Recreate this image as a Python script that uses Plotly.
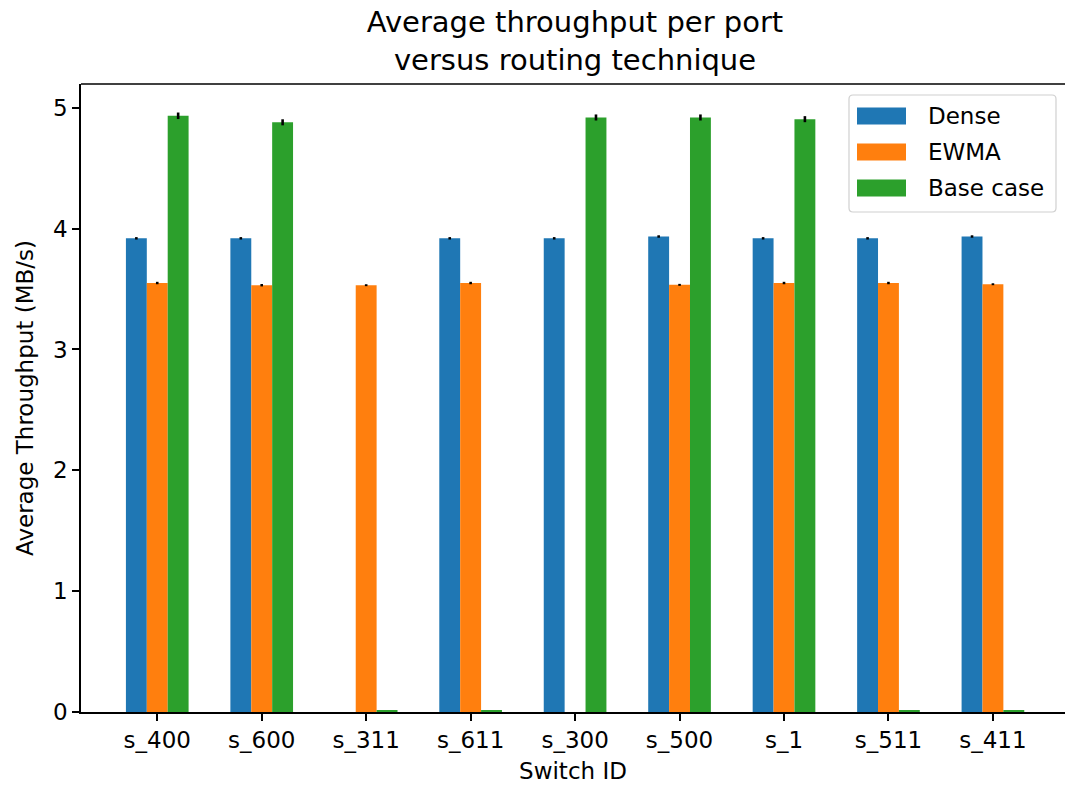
import plotly.graph_objects as go

switches = ["s_400", "s_600", "s_311", "s_611", "s_300", "s_500", "s_1", "s_511", "s_411"]
dense = [3.92, 3.92, None, 3.92, 3.92, 3.935, 3.92, 3.92, 3.935]
dense_err = [0.01, 0.01, 0, 0.01, 0.01, 0.01, 0.01, 0.01, 0.01]
ewma = [3.55, 3.532, 3.532, 3.55, None, 3.535, 3.55, 3.55, 3.54]
ewma_err = [0.01, 0.01, 0.008, 0.01, 0, 0.008, 0.01, 0.01, 0.008]
base = [4.934, 4.88, 0.012, 0.012, 4.92, 4.92, 4.906, 0.012, 0.012]
base_err = [0.027, 0.025, 0, 0, 0.025, 0.025, 0.025, 0, 0]
series_names = ["Dense", "EWMA", "Base case"]
colors = ["#1f77b4", "#ff7f0e", "#2ca02c"]
y_ticks = [0, 1, 2, 3, 4, 5]

W, H = 1065, 787
L, R, T, B = 81, 1065, 84, 712
FONT = "DejaVu Sans"
FS = 23

fig = go.Figure()
for name, vals, errs, col in zip(series_names, [dense, ewma, base], [dense_err, ewma_err, base_err], colors):
    fig.add_trace(go.Bar(
        x=switches, y=vals, name=name,
        marker=dict(color=col, line=dict(width=0)),
        error_y=dict(type="data", array=errs, color="black", thickness=2.6, width=0),
        showlegend=False,
    ))

def px(xpix):
    return (xpix - L) / (R - L)

def py(ypix):
    return (B - ypix) / (B - T)

shapes = []
# top spine
shapes.append(dict(type="line", xref="paper", yref="paper", x0=0, x1=1, y0=1, y1=1,
                   line=dict(color="black", width=1.6)))

# legend box (rounded)
x0, x1, y0, y1 = px(849), px(1056), py(212), py(95)
rx, ry = 4 / (R - L), 4 / (B - T)
path = (f"M {x0+rx},{y0} L {x1-rx},{y0} Q {x1},{y0} {x1},{y0+ry} "
        f"L {x1},{y1-ry} Q {x1},{y1} {x1-rx},{y1} L {x0+rx},{y1} Q {x0},{y1} {x0},{y1-ry} "
        f"L {x0},{y0+ry} Q {x0},{y0} {x0+rx},{y0} Z")
shapes.append(dict(type="path", xref="paper", yref="paper", path=path,
                   fillcolor="rgba(255,255,255,0.8)", line=dict(color="#d0d0d0", width=1.2)))

annotations = []
centers = [116, 152, 188]
for name, col, cy in zip(series_names, colors, centers):
    shapes.append(dict(type="rect", xref="paper", yref="paper",
                       x0=px(857), x1=px(906), y0=py(cy + 8.5), y1=py(cy - 8.5),
                       fillcolor=col, line=dict(width=0)))
    annotations.append(dict(xref="paper", yref="paper", x=px(926), y=py(cy), text=name,
                            showarrow=False, xanchor="left", yanchor="middle",
                            font=dict(family=FONT, size=FS, color="black")))

fig.update_layout(
    width=W, height=H,
    margin=dict(l=L, r=W - R, t=T, b=H - B, pad=0),
    paper_bgcolor="white", plot_bgcolor="white",
    barmode="group", bargap=0.4, bargroupgap=0,
    font=dict(family=FONT, size=FS, color="black"),
    title=dict(text="Average throughput per port<br>versus routing technique",
               x=(L + 1069) / 2 / W, xanchor="center", y=1 - 32 / H, yanchor="middle",
               font=dict(family=FONT, size=29, color="black")),
    xaxis=dict(range=[-0.73, 8.69], showgrid=False, zeroline=False,
               showline=True, linecolor="black", linewidth=1.6,
               ticks="outside", ticklen=7, tickwidth=1.6, tickcolor="black",
               tickfont=dict(family=FONT, size=FS, color="black"),
               title=dict(text="Switch ID", standoff=10, font=dict(family=FONT, size=FS, color="black"))),
    yaxis=dict(range=[0, 5.197], tickvals=y_ticks, showgrid=False, zeroline=False,
               showline=True, linecolor="black", linewidth=1.6,
               ticks="outside", ticklen=7, tickwidth=1.6, tickcolor="black",
               tickfont=dict(family=FONT, size=FS, color="black"),
               title=dict(text="Average Throughput (MB/s)", standoff=13,
                          font=dict(family=FONT, size=FS, color="black"))),
    shapes=shapes, annotations=annotations,
)

fig.write_html("out.html", config={"displayModeBar": False},
               post_script="document.body.style.margin='0';document.body.style.overflow='hidden';")
